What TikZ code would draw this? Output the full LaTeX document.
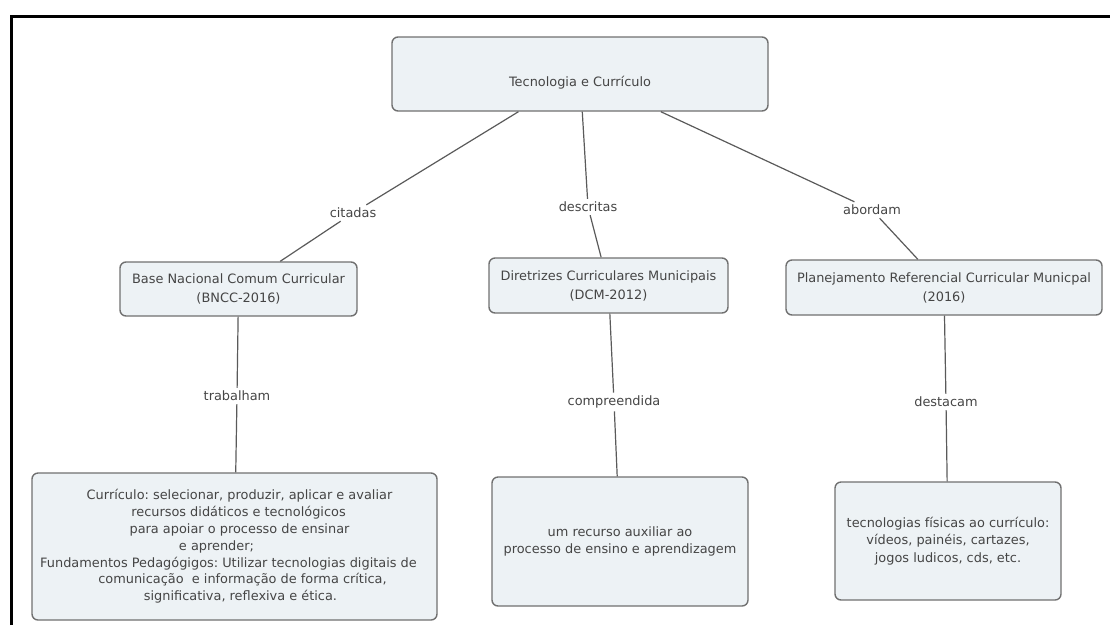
\documentclass[tikz,border=0pt]{standalone}
\usepackage{fontspec}
\setmainfont{DejaVu Sans}
\frenchspacing
\definecolor{boxfill}{HTML}{EDF2F5}
\definecolor{boxdraw}{HTML}{707070}
\definecolor{txt}{HTML}{454545}
\definecolor{linkc}{HTML}{5A5A5A}
\begin{document}
\begin{tikzpicture}[x=1pt,y=-1pt,
  concept/.style={draw=boxdraw, line width=1.4pt, fill=boxfill, rounded corners=6pt,
    text=txt, align=center, inner sep=0pt, font=\fontsize{12.9}{17.5}\selectfont\frenchspacing},
  conceptwide/.style={concept, font=\fontsize{12.9}{19}\selectfont\frenchspacing},
  conceptnarrow/.style={concept, font=\fontsize{12.9}{16.8}\selectfont\frenchspacing},
  linklabel/.style={text=txt, inner sep=3pt, font=\fontsize{12.9}{15}\selectfont},
  link/.style={draw=linkc, line width=1.2pt}]
\useasboundingbox (0,0) rectangle (1110,625);
\draw[line width=3pt] (11,625) -- (11,16.5) -- (1110,16.5);

% concepts
\node[concept, minimum width=376pt, minimum height=74pt, text height=24pt, text depth=0pt]
  (top) at (580,74) {Tecnologia e Currículo};
\node[conceptwide, minimum width=237pt, minimum height=54pt] (bncc) at (238.5,289)
  {Base Nacional Comum Curricular\\(BNCC-2016)};
\node[conceptwide, minimum width=239pt, minimum height=55pt] (dcm) at (608.5,285.5)
  {Diretrizes Curriculares Municipais\\(DCM-2012)};
\node[conceptwide, minimum width=316pt, minimum height=55pt] (prcm) at (944,287.5)
  {Planejamento Referencial Curricular Municpal\\(2016)};
\node[conceptnarrow, minimum width=405pt, minimum height=147pt] (curr) at (234.5,546.5)
  {\hspace*{10pt}Currículo: selecionar, produzir, aplicar e avaliar\\
   \hspace*{8pt}recursos didáticos e tecnológicos\\
   \hspace*{10pt}para apoiar o processo de ensinar\\
   \hspace*{-36pt}e aprender;\\
   \hspace*{-12pt}Fundamentos Pedagógigos: Utilizar tecnologias digitais de\\
   \hspace*{16pt}comunicação\ \ e informação de forma crítica,\\
   \hspace*{12pt}significativa, reflexiva e ética.};
\node[concept, minimum width=256pt, minimum height=129pt] (rec) at (620,541.5)
  {um recurso auxiliar ao\\processo de ensino e aprendizagem};
\node[concept, minimum width=226pt, minimum height=118pt] (tecf) at (948,541)
  {tecnologias físicas ao currículo:\\vídeos, painéis, cartazes,\\jogos ludicos, cds, etc.};

% linking phrases
\node[linklabel] (citadas) at (353,213) {citadas};
\node[linklabel] (descritas) at (588,207) {descritas};
\node[linklabel] (abordam) at (872,210) {abordam};
\node[linklabel] (trabalham) at (237,396) {trabalham};
\node[linklabel] (compreendida) at (614,402) {compreendida};
\node[linklabel] (destacam) at (946,402) {destacam};

% connectors
\draw[link] (top) -- (citadas);
\draw[link] (citadas) -- (bncc);
\draw[link] (top) -- (descritas);
\draw[link] (descritas) -- (dcm);
\draw[link] (top) -- (abordam);
\draw[link] (abordam) -- (prcm);
\draw[link] (bncc) -- (trabalham);
\draw[link] (trabalham) -- (curr);
\draw[link] (dcm) -- (compreendida);
\draw[link] (compreendida) -- (rec);
\draw[link] (prcm) -- (destacam);
\draw[link] (destacam) -- (tecf);
\end{tikzpicture}
\end{document}
